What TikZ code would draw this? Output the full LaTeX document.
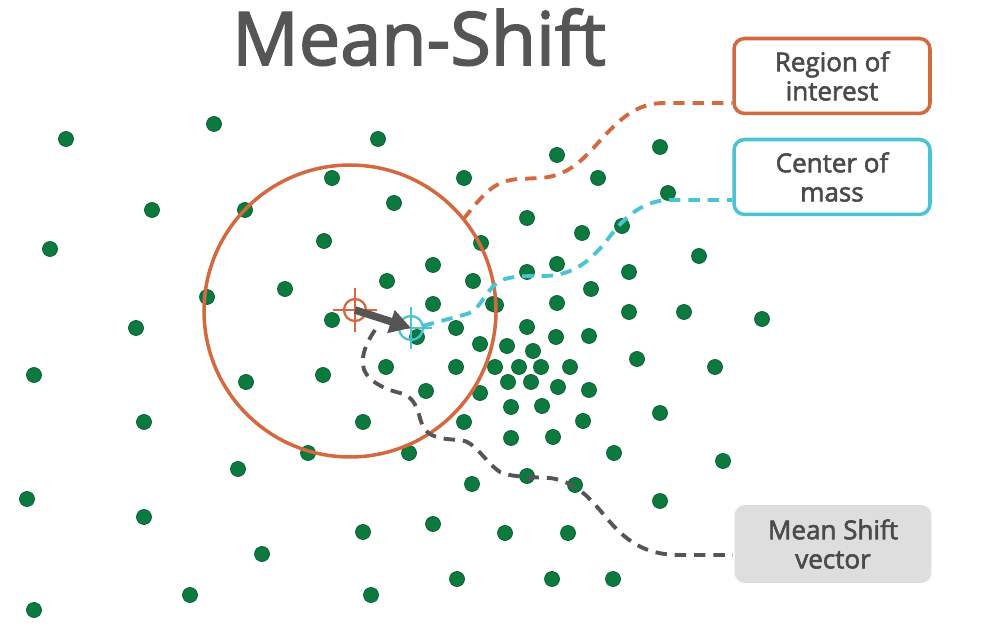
\documentclass[tikz,border=0pt]{standalone}
\usepackage{fontspec}
\setmainfont{Open Sans}
\newfontfamily\semifont[FakeBold=2.2]{Open Sans}
\usetikzlibrary{arrows.meta}
\definecolor{corange}{HTML}{D4683F}
\definecolor{ccyan}{HTML}{4AC4D3}
\definecolor{cgreen}{HTML}{0C7A3E}
\definecolor{cdark}{HTML}{555555}
\definecolor{ctext}{HTML}{4A4A4A}
\definecolor{cbox}{HTML}{DEDEDE}
\tikzset{
  every picture/.style={line width=2pt},
  dot/.style={fill=cgreen, draw=cgreen!75!black, line width=0.4pt},
  callout/.style={draw=#1, rounded corners=6pt, line width=2pt, minimum width=3.92cm, minimum height=1.5cm, align=center, text=ctext, font=\semifont\fontsize{14.8}{16.6}\selectfont},
  leader/.style={draw=#1, dash pattern=on 6.5pt off 4.5pt, line width=2.2pt},
  cross/.style={draw=#1, line width=1.3pt},
  target/.style={circle, draw=#1, line width=1.3pt, inner sep=0pt, outer sep=0pt},
  shiftarrow/.style={-{Triangle[length=12pt,width=13pt]}, draw=cdark, line width=4.3pt},
  title/.style={font=\semifont\fontsize{42}{50}\selectfont, text=cdark},
}
\begin{document}
\begin{tikzpicture}[x=0.02cm, y=-0.02cm]
  \useasboundingbox (0,0) rectangle (1000,641);
  % data points
  \foreach \px/\py in {66/139, 214/124, 378/139, 332/178, 464/178, 152/210, 245/210, 394/203, 50/249, 324/241,
    481/243, 433/265, 387/281, 473/281, 285/289, 207/297, 433/304, 493/304, 332/320, 136/328,
    417/337, 456/328, 480/344, 34/375, 323/375, 386/367, 456/367, 495/367, 246/382, 426/391,
    480/393, 144/422, 363/422, 464/422, 308/453, 409/453, 238/469, 472/484, 27/499, 144/517,
    433/524, 363/532, 505/533, 262/554, 457/579, 190/595, 371/595, 34/610,
    557/155, 660/147, 598/178, 668/193, 527/218, 582/233, 622/226, 699/256, 557/264, 527/272,
    629/272, 591/289, 496/305, 557/303, 629/312, 684/312, 762/319, 527/327, 556/337, 589/336,
    507/346, 533/351, 637/359, 519/367, 541/367, 570/367, 715/367, 508/382, 531/382, 558/387,
    589/390, 511/407, 542/406, 660/413, 583/421, 511/438, 553/437, 614/453, 723/461, 527/476,
    575/485, 660/501, 568/533, 552/579, 613/579}
    \filldraw[dot] (\px,\py) circle (0.15cm);
  % window
  \node[circle, draw=corange, line width=2pt, minimum size=5.84cm, inner sep=0pt, outer sep=0pt] (region) at (350,311) {};
  % labels
  \node[callout=corange] (roi) at (832,76) {Region of\\interest};
  \node[callout=ccyan] (com) at (832,177) {Center of\\mass};
  \node[callout=cbox, fill=cbox, draw=none, minimum width=3.94cm, minimum height=1.56cm] (msv) at (833,544) {Mean Shift\\vector};
  % centres
  \node[target=corange, minimum size=0.44cm] (oc) at (355,310) {};
  \node[target=ccyan, minimum size=0.48cm] (cc) at (411,328) {};
  \coordinate (vstart) at (375,330);
  \draw[leader=corange] (region.39) .. controls (485,192) and (495,180) .. (520,179) -- (540,178)
    .. controls (575,176) and (590,150) .. (610,130) .. controls (625,115) and (640,103) .. (665,103) -- (roi.west |- 0,103);
  \draw[leader=ccyan] (cc.10) -- (467,314) .. controls (480,311) and (485,290) .. (500,281)
    .. controls (510,276) and (525,276) .. (545,276) .. controls (575,275) and (590,260) .. (605,243)
    .. controls (620,222) and (640,200) .. (670,200) -- (com.west |- 0,200);
  \draw[leader=cdark] (vstart) .. controls (365,345) and (362,355) .. (363,365)
    .. controls (364,378) and (380,388) .. (400,393) .. controls (420,398) and (418,420) .. (424,428)
    .. controls (430,437) and (440,439) .. (460,440) .. controls (475,441) and (485,462) .. (500,472)
    .. controls (510,477) and (530,477) .. (550,478) .. controls (580,482) and (595,505) .. (610,522)
    .. controls (630,545) and (650,555) .. (680,555) -- (msv.west |- 0,555);
  \draw[cross=corange] (oc.center) ++(-22,0) -- ++(44,0) (oc.center) ++(0,-22) -- ++(0,44);
  \draw[cross=ccyan] (cc.center) ++(-21,0) -- ++(42,0) (cc.center) ++(0,-21) -- ++(0,42);
  \draw[shiftarrow] (oc.center) -- (cc.center);
  \node[title, anchor=base] (head) at (419,65) {Mean-Shift};
\end{tikzpicture}
\end{document}
